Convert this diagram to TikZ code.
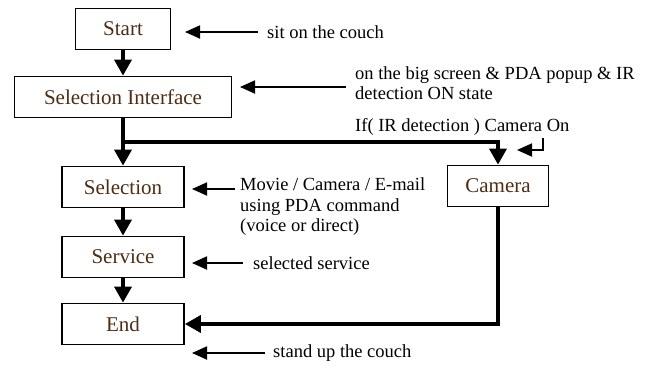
\documentclass[tikz,border=0pt]{standalone}
\usepackage{fontspec}
\setmainfont{Liberation Serif}
\usetikzlibrary{positioning, arrows.meta}
\definecolor{stagetext}{RGB}{78,44,18}

\begin{document}
\begin{tikzpicture}[x=1pt, y=-1pt,
    stage/.style={draw, line width=1.8pt, text=stagetext, inner sep=0pt,
                  font=\fontsize{21}{24}\selectfont, minimum height=41pt},
    note/.style={anchor=west, align=left, inner sep=0pt,
                 font=\fontsize{18.5}{20.5}\selectfont},
    flow/.style={line width=3.6pt, -{Triangle[length=16pt, width=17pt]}},
    hint/.style={line width=1.8pt, -{Triangle[length=15pt, width=13pt]}}]
    \useasboundingbox (0,0) rectangle (656,370);

    % stages of the flow
    \node[stage, minimum width=95pt]  (start)   at (123,29)  {Start};
    \node[stage, minimum width=217pt] (selif)   at (123,97)  {Selection Interface};
    \node[stage, minimum width=122pt] (select)  at (123,187) {Selection};
    \node[stage, minimum width=122pt] (service) at (123,257) {Service};
    \node[stage, minimum width=122pt] (end)     at (123,324) {End};
    \node[stage, minimum width=101pt] (camera)  at (498,186) {Camera};

    % main flow
    \coordinate (fork) at (123,142);
    \draw[flow] (start.south) -- (selif.north);
    \draw[flow] (selif.south) -- (select.north);
    \draw[flow] (fork) -| (camera.north);
    \draw[flow] (select.south) -- (service.north);
    \draw[flow] (service.south) -- (end.north);
    \draw[flow] (camera.south) |- (end.east);

    % notes with their arrows
    \node[note] (sit)    at (267,32)  {sit on the couch};
    \node[note] (screen) at (355,83)  {on the big screen \& PDA popup \& IR\\detection ON state};
    \node[note] (irdet)  at (355,127) {If( IR detection ) Camera On};
    \node[note] (menu)   at (240,207) {Movie / Camera / E-mail\\using PDA command\\(voice or direct)};
    \node[note] (chosen) at (253,263) {selected service};
    \node[note] (stand)  at (273,353) {stand up the couch};

    \coordinate (tipsit)    at (185,32);
    \coordinate (tipscreen) at (240,87);
    \coordinate (tipmenu)   at (192,189);
    \coordinate (tipchosen) at (192,263);
    \coordinate (tipstand)  at (192,353);
    \coordinate (bend)      at (543,138);
    \coordinate (tipir)     at (517,150);

    \draw[hint, shorten <=9pt] (sit.west) -- (tipsit);
    \draw[hint, shorten <=9pt] (screen.west |- tipscreen) -- (tipscreen);
    \draw[hint, shorten <=5pt] (menu.west |- tipmenu) -- (tipmenu);
    \draw[hint, shorten <=10pt] (chosen.west) -- (tipchosen);
    \draw[hint, shorten <=8pt] (stand.west) -- (tipstand);
    \draw[hint] (bend) |- (tipir);
\end{tikzpicture}
\end{document}
